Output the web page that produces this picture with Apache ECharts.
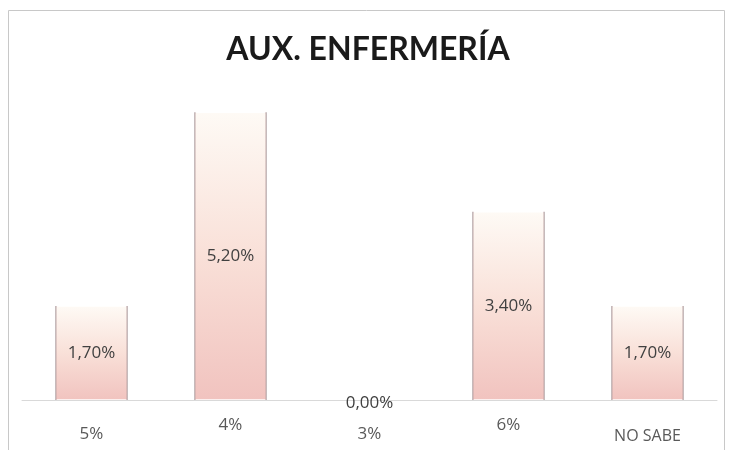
<!DOCTYPE html>
<html><head><meta charset="utf-8">
<script src="https://cdn.jsdelivr.net/npm/echarts@6/dist/echarts.min.js"></script>
<style>html,body{margin:0;padding:0;background:#fff}#c{width:736px;height:450px}</style>
</head><body><div id="c"></div>
<script>
var titleText = 'AUX. ENFERMERÍA';
var categories = ['5%', '4%', '3%', '6%', 'NO SABE'];
var values = [1.7, 5.2, 0.0, 3.4, 1.7];
var valueLabels = ['1,70%', '5,20%', '0,00%', '3,40%', '1,70%'];

var chart = echarts.init(document.getElementById('c'));
var catPad = [15, 6, 15, 6, 17];
var catData = categories.map(function (c, i) {
  return { value: c, textStyle: { padding: [catPad[i], 0, 0, 0], fontSize: c.length > 3 ? 16 : 17 } };
});
var barData = values.map(function (v, i) {
  var d = { value: v };
  if (v === 0) { d.label = { offset: [0, 3] }; d.itemStyle = { borderWidth: 0, color: 'rgba(255,255,255,0)' }; }
  return d;
});
chart.setOption({
  animation: false,
  backgroundColor: '#fff',
  title: {
    text: titleText, left: 'center', top: 29,
    textStyle: { fontFamily: 'Lato', fontWeight: 'bold', fontSize: 32, color: '#1a1a1a' }
  },
  graphic: [{
    type: 'rect', silent: true, z: -1,
    shape: { x: 8.5, y: 10.5, width: 716, height: 460 },
    style: { fill: 'none', stroke: '#c8c8c8', lineWidth: 1 }
  }],
  grid: { left: 22, right: 19, top: 68, bottom: 50 },
  xAxis: {
    type: 'category', data: catData,
    axisLine: { lineStyle: { color: '#d9d9d9', width: 1 } },
    axisTick: { show: false },
    axisLabel: { margin: 11, color: '#595959', fontFamily: 'Open Sans', fontSize: 17 }
  },
  yAxis: { type: 'value', min: 0, max: 6, show: false, splitLine: { show: false } },
  series: [{
    type: 'bar', data: barData, barWidth: '52%',
    itemStyle: {
      color: new echarts.graphic.LinearGradient(0, 0, 0, 1, [
        { offset: 0, color: '#fefaf5' },
        { offset: 0.5, color: '#f9e0d8' },
        { offset: 1, color: '#f1c3bf' }
      ]),
      borderWidth: 1.5,
      borderColor: new echarts.graphic.LinearGradient(0, 0, 1, 0, [
        { offset: 0, color: '#9c8a8c' },
        { offset: 0.03, color: 'rgba(200,160,160,0)' },
        { offset: 0.97, color: 'rgba(200,160,160,0)' },
        { offset: 1, color: '#9c8a8c' }
      ])
    },
    label: {
      show: true, position: 'inside', color: '#404040',
      fontFamily: 'Open Sans', fontSize: 17,
      formatter: function (p) { return valueLabels[p.dataIndex]; }
    }
  }]
});
</script></body></html>
